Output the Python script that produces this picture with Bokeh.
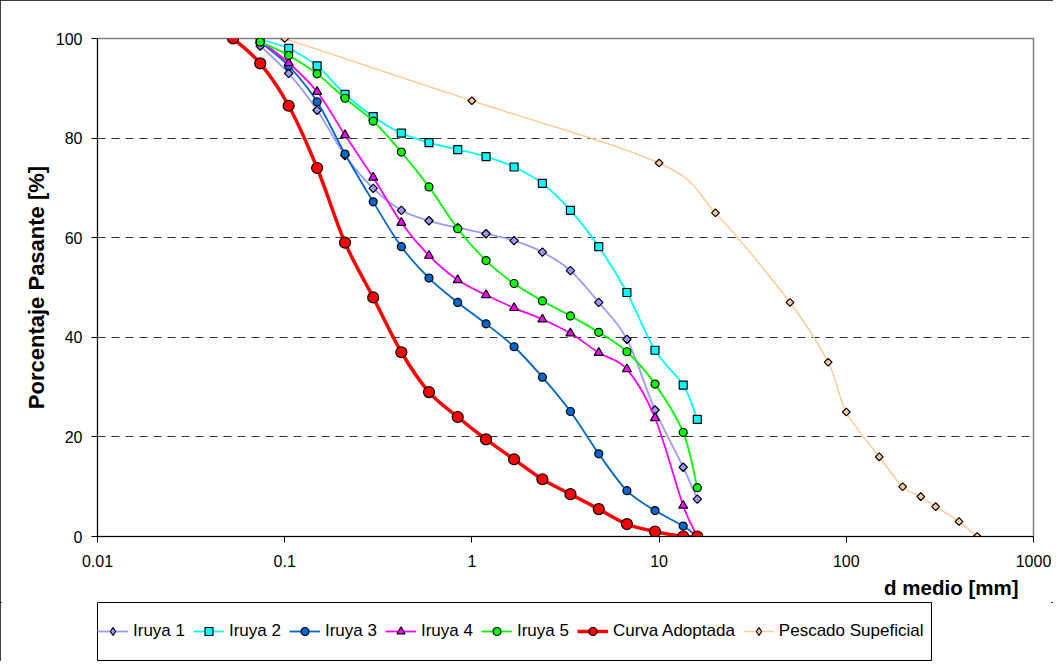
import numpy as np
from bokeh.plotting import figure
from bokeh.layouts import column
from bokeh.models import (Range1d, FixedTicker, CustomJSTickFormatter, Legend, LegendItem,
                          Title, ColumnDataSource)
from bokeh.embed import file_html
from bokeh.resources import INLINE

# ---------------- data ----------------
sieve = [0.074, 0.105, 0.149, 0.21, 0.297, 0.42, 0.59, 0.84, 1.19, 1.68,
         2.38, 3.36, 4.76, 6.73, 9.51, 13.45, 16.0]
sieve_adopt = [0.053, 0.074, 0.105, 0.149, 0.21, 0.297, 0.42, 0.59, 0.84, 1.19,
               1.68, 2.38, 3.36, 4.76, 6.73, 9.51, 13.45, 16.0]

iruya1 = [98.5, 93.0, 85.6, 76.5, 69.9, 65.5, 63.4, 62.0, 60.8, 59.4, 57.1, 53.4, 47.0, 39.6, 25.4, 13.9, 7.5]
iruya2 = [99.8, 98.0, 94.5, 88.8, 84.3, 81.0, 79.1, 77.7, 76.3, 74.2, 70.9, 65.5, 58.2, 49.0, 37.4, 30.4, 23.5]
iruya3 = [99.3, 94.5, 87.3, 76.8, 67.2, 58.2, 51.9, 47.0, 42.7, 38.1, 32.0, 25.1, 16.6, 9.2, 5.2, 2.1, 0.0]
iruya4 = [99.5, 95.1, 89.3, 80.6, 72.1, 63.0, 56.4, 51.5, 48.5, 45.9, 43.6, 40.8, 36.9, 33.6, 23.8, 6.2, 0.0]
iruya5 = [99.3, 96.6, 92.9, 88.0, 83.4, 77.2, 70.2, 61.8, 55.4, 50.8, 47.3, 44.3, 41.0, 37.1, 30.6, 20.9, 9.8]
adoptada = [100.0, 95.0, 86.5, 74.0, 59.0, 48.0, 37.0, 29.0, 24.0, 19.5, 15.5, 11.5, 8.5, 5.5, 2.5, 1.0, 0.0, 0.0]

pescado_x = [0.1, 1, 10, 20, 50, 80, 100, 150, 200, 250, 300, 400, 500]
pescado_y = [100, 87.5, 75, 65, 47, 35, 25, 16, 10, 8, 6, 3, 0]

x_ticks = [0.01, 0.1, 1, 10, 100, 1000]
y_ticks = [0, 20, 40, 60, 80, 100]

FONT = "Liberation Sans"


def smooth_segments(xs, ys):
    """Cubic Bezier control points (Catmull-Rom, in log-x space) for a smoothed line."""
    lx = np.log10(np.asarray(xs, float))
    y = np.asarray(ys, float)
    n = len(lx)
    out = dict(x0=[], y0=[], x1=[], y1=[], cx0=[], cy0=[], cx1=[], cy1=[])
    for i in range(n - 1):
        a = i - 1 if i > 0 else i
        d = i + 2 if i + 2 < n else i + 1
        c0x = lx[i] + (lx[i + 1] - lx[a]) / 6.0
        c0y = y[i] + (y[i + 1] - y[a]) / 6.0
        c1x = lx[i + 1] - (lx[d] - lx[i]) / 6.0
        c1y = y[i + 1] - (y[d] - y[i]) / 6.0
        out["x0"].append(10 ** lx[i]); out["y0"].append(y[i])
        out["x1"].append(10 ** lx[i + 1]); out["y1"].append(y[i + 1])
        out["cx0"].append(10 ** c0x); out["cy0"].append(c0y)
        out["cx1"].append(10 ** c1x); out["cy1"].append(c1y)
    return ColumnDataSource(out)


# ---------------- main chart ----------------
p = figure(frame_width=936, frame_height=498, x_axis_type="log",
           x_range=Range1d(0.01, 1000), y_range=Range1d(0, 100),
           output_backend="svg", toolbar_location=None,
           min_border_left=96, min_border_right=21, min_border_top=38, min_border_bottom=60)
p.background_fill_color = "white"
p.border_fill_color = "white"
p.outline_line_color = "#808080"
p.outline_line_width = 1.5

p.xgrid.grid_line_color = None
p.ygrid.ticker = FixedTicker(ticks=y_ticks[1:-1])
p.ygrid.grid_line_color = "#333333"
p.ygrid.grid_line_dash = "8 6"
p.ygrid.grid_line_width = 1

xa = p.xaxis[0]
xa.ticker = FixedTicker(ticks=x_ticks, minor_ticks=[])
xa.formatter = CustomJSTickFormatter(code="return tick.toString();")
xa.major_tick_out = 6
xa.major_tick_in = 0
xa.minor_tick_out = 0
xa.minor_tick_in = 0
xa.major_label_standoff = 12
xa.major_label_text_font = FONT
xa.major_label_text_font_size = "16px"
xa.major_label_text_color = "black"
xa.axis_line_color = "black"
xa.major_tick_line_color = "black"

ya = p.yaxis[0]
ya.ticker = FixedTicker(ticks=y_ticks, minor_ticks=[])
ya.major_tick_out = 6
ya.major_tick_in = 0
ya.minor_tick_out = 0
ya.minor_tick_in = 0
ya.major_label_standoff = 9
ya.major_label_text_font = FONT
ya.major_label_text_font_size = "16px"
ya.major_label_text_color = "black"
ya.axis_line_color = "black"
ya.major_tick_line_color = "black"
ya.axis_label = "Porcentaje Pasante [%]"
ya.axis_label_text_font = FONT
ya.axis_label_text_font_size = "22px"
ya.axis_label_text_font_style = "bold"
ya.axis_label_text_color = "black"
ya.axis_label_standoff = 4

# name, x, y, colour, plot marker, size, line width, angle, legend marker
series = [
    ("Iruya 1", sieve, iruya1, "#9999FF", "square", 6, 1.8, np.pi / 4, "diamond"),
    ("Iruya 2", sieve, iruya2, "#00FFFF", "square", 8, 1.8, 0, "square"),
    ("Iruya 3", sieve, iruya3, "#0066CC", "circle", 8, 1.8, 0, "circle"),
    ("Iruya 4", sieve, iruya4, "#FF00FF", "triangle", 9, 1.8, 0, "triangle"),
    ("Iruya 5", sieve, iruya5, "#00FF00", "circle", 8, 1.8, 0, "circle"),
    ("Curva Adoptada", sieve_adopt, adoptada, "#FF0000", "circle", 11, 3.5, 0, "circle"),
    ("Pescado Supeficial", pescado_x, pescado_y, "#FFCC99", "square", 5.5, 1.5, np.pi / 4, "diamond"),
]

for name, xs, ys, col, mk, sz, lw, ang, lmk in series:
    src = smooth_segments(xs, ys)
    p.bezier(x0="x0", y0="y0", x1="x1", y1="y1", cx0="cx0", cy0="cy0", cx1="cx1", cy1="cy1",
             source=src, line_color=col, line_width=lw)
    p.scatter(x=xs, y=ys, marker=mk, size=sz, angle=ang, fill_color=col,
              line_color="black", line_width=1.2)

xtitle = Title(text="d medio [mm]", align="right", offset=15, standoff=8,
               text_font=FONT, text_font_size="20.5px", text_font_style="bold",
               text_color="black")
p.add_layout(xtitle, "below")

# ---------------- legend strip ----------------
pl = figure(width=1053, height=59, x_range=Range1d(0, 1), y_range=Range1d(0, 1),
            x_axis_type=None, y_axis_type=None,
            output_backend="svg", toolbar_location=None,
            min_border_left=97, min_border_right=122, min_border_top=0, min_border_bottom=1)
pl.background_fill_color = "white"
pl.border_fill_color = "white"
pl.outline_line_color = "black"
pl.outline_line_width = 1

items = []
for name, xs, ys, col, mk, sz, lw, ang, lmk in series:
    lr = pl.line(x=[float("nan")], y=[float("nan")], line_color=col, line_width=lw)
    sr = pl.scatter(x=[float("nan")], y=[float("nan")], marker=lmk, size=sz,
                    fill_color=col, line_color="black", line_width=1.2)
    items.append(LegendItem(label=name, renderers=[lr, sr]))

legend = Legend(items=items, orientation="horizontal", location="left",
                glyph_width=31, glyph_height=20, label_standoff=5, spacing=8,
                padding=4, margin=0,
                label_text_font=FONT, label_text_font_size="17px",
                label_text_color="black",
                border_line_color=None, background_fill_alpha=0.0)
pl.add_layout(legend)

layout = column(p, pl, spacing=0)
layout.styles = {"outline": "2px solid black", "outline-offset": "-2px"}

open("out.html", "w").write(file_html(layout, INLINE))
